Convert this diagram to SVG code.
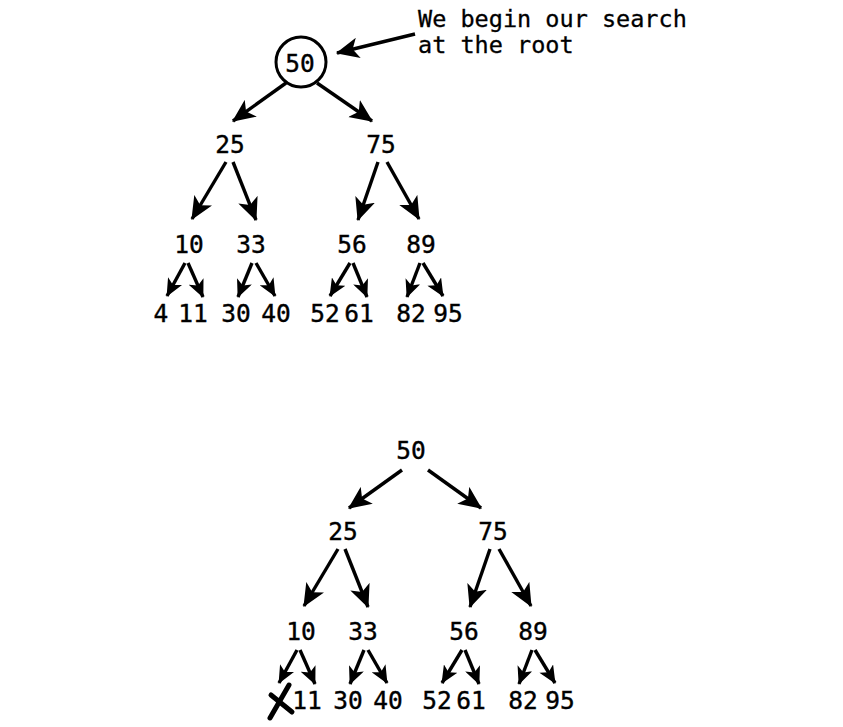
<svg xmlns="http://www.w3.org/2000/svg" width="843" height="727" viewBox="0 0 843 727">
<style>
text{font-family:"DejaVu Sans Mono","Liberation Mono",monospace;fill:#000;stroke:#000;stroke-width:0.4;}
.n{font-size:24.5px;text-anchor:middle;}
.note{font-size:23.5px;stroke-width:0.3;}
.e{stroke:#000;stroke-width:3.4;fill:none;}
.big{marker-end:url(#ah);}
.sm{marker-end:url(#ahs);}
</style>
<defs>
<marker id="ah" viewBox="0 0 20 18" refX="19" refY="9" markerWidth="23" markerHeight="21" markerUnits="userSpaceOnUse" orient="auto">
<path d="M0,0 L20,9 L0,18 L5,9 Z" fill="#000"/>
</marker>
<marker id="ahs" viewBox="0 0 20 18" refX="19" refY="9" markerWidth="18" markerHeight="16" markerUnits="userSpaceOnUse" orient="auto">
<path d="M0,0 L20,9 L0,18 L5,9 Z" fill="#000"/>
</marker>
</defs>

<g id="top-tree">
<g id="t50"><circle cx="301" cy="62" r="25" fill="none" stroke="#000" stroke-width="3"/><text class="n" x="300" y="72">50</text></g>
<g id="t25"><text class="n" x="230" y="153">25</text></g>
<g id="t75"><text class="n" x="381" y="153">75</text></g>
<g id="t10"><text class="n" x="189" y="253">10</text></g>
<g id="t33"><text class="n" x="251" y="253">33</text></g>
<g id="t56"><text class="n" x="352" y="253">56</text></g>
<g id="t89"><text class="n" x="421" y="253">89</text></g>
<g id="t4"><text class="n" x="161" y="322">4</text></g>
<g id="t11"><text class="n" x="193" y="322">11</text></g>
<g id="t30"><text class="n" x="236" y="322">30</text></g>
<g id="t40"><text class="n" x="276" y="322">40</text></g>
<g id="t52"><text class="n" x="325" y="322">52</text></g>
<g id="t61"><text class="n" x="359" y="322">61</text></g>
<g id="t82"><text class="n" x="411" y="322">82</text></g>
<g id="t95"><text class="n" x="448" y="322">95</text></g>
<g id="note"><text class="note" x="418" y="27">We begin our search</text><text class="note" x="418" y="53">at the root</text></g>
</g>

<g id="top-connectors">
<line class="e big" x1="415" y1="34" x2="337" y2="53"/>
<line class="e big" x1="286" y1="83" x2="233" y2="121"/>
<line class="e big" x1="317" y1="83" x2="372" y2="121"/>
<line class="e big" x1="226" y1="162" x2="192" y2="219"/>
<line class="e big" x1="233" y1="162" x2="256" y2="220"/>
<line class="e big" x1="378" y1="162" x2="358" y2="220"/>
<line class="e big" x1="387" y1="162" x2="419" y2="219"/>
<line class="e sm" x1="185" y1="263" x2="167" y2="296"/>
<line class="e sm" x1="188" y1="263" x2="203" y2="297"/>
<line class="e sm" x1="252" y1="263" x2="238" y2="297"/>
<line class="e sm" x1="256" y1="263" x2="275" y2="296"/>
<line class="e sm" x1="350" y1="263" x2="330" y2="296"/>
<line class="e sm" x1="353" y1="263" x2="367" y2="297"/>
<line class="e sm" x1="420" y1="263" x2="407" y2="297"/>
<line class="e sm" x1="423" y1="263" x2="443" y2="296"/>
</g>

<g id="bottom-tree">
<g id="b50"><text class="n" x="411" y="459">50</text></g>
<g id="b25"><text class="n" x="343" y="540">25</text></g>
<g id="b75"><text class="n" x="493" y="540">75</text></g>
<g id="b10"><text class="n" x="301" y="640">10</text></g>
<g id="b33"><text class="n" x="363" y="640">33</text></g>
<g id="b56"><text class="n" x="464" y="640">56</text></g>
<g id="b89"><text class="n" x="533" y="640">89</text></g>
<g id="b4x"><path d="M270,718 L289,685 M271,695 L292,712" stroke="#000" stroke-width="5" stroke-linecap="round" fill="none"/></g>
<g id="b11"><text class="n" x="307" y="709">11</text></g>
<g id="b30"><text class="n" x="348" y="709">30</text></g>
<g id="b40"><text class="n" x="388" y="709">40</text></g>
<g id="b52"><text class="n" x="437" y="709">52</text></g>
<g id="b61"><text class="n" x="471" y="709">61</text></g>
<g id="b82"><text class="n" x="523" y="709">82</text></g>
<g id="b95"><text class="n" x="560" y="709">95</text></g>
</g>

<g id="bottom-connectors">
<line class="e big" x1="402" y1="470" x2="349" y2="508"/>
<line class="e big" x1="428" y1="470" x2="481" y2="508"/>
<line class="e big" x1="338" y1="549" x2="304" y2="606"/>
<line class="e big" x1="345" y1="549" x2="368" y2="607"/>
<line class="e big" x1="490" y1="549" x2="470" y2="607"/>
<line class="e big" x1="499" y1="549" x2="531" y2="606"/>
<line class="e sm" x1="297" y1="650" x2="279" y2="683"/>
<line class="e sm" x1="300" y1="650" x2="315" y2="684"/>
<line class="e sm" x1="364" y1="650" x2="350" y2="684"/>
<line class="e sm" x1="368" y1="650" x2="387" y2="683"/>
<line class="e sm" x1="462" y1="650" x2="442" y2="683"/>
<line class="e sm" x1="465" y1="650" x2="479" y2="684"/>
<line class="e sm" x1="532" y1="650" x2="519" y2="684"/>
<line class="e sm" x1="535" y1="650" x2="555" y2="683"/>
</g>
</svg>
